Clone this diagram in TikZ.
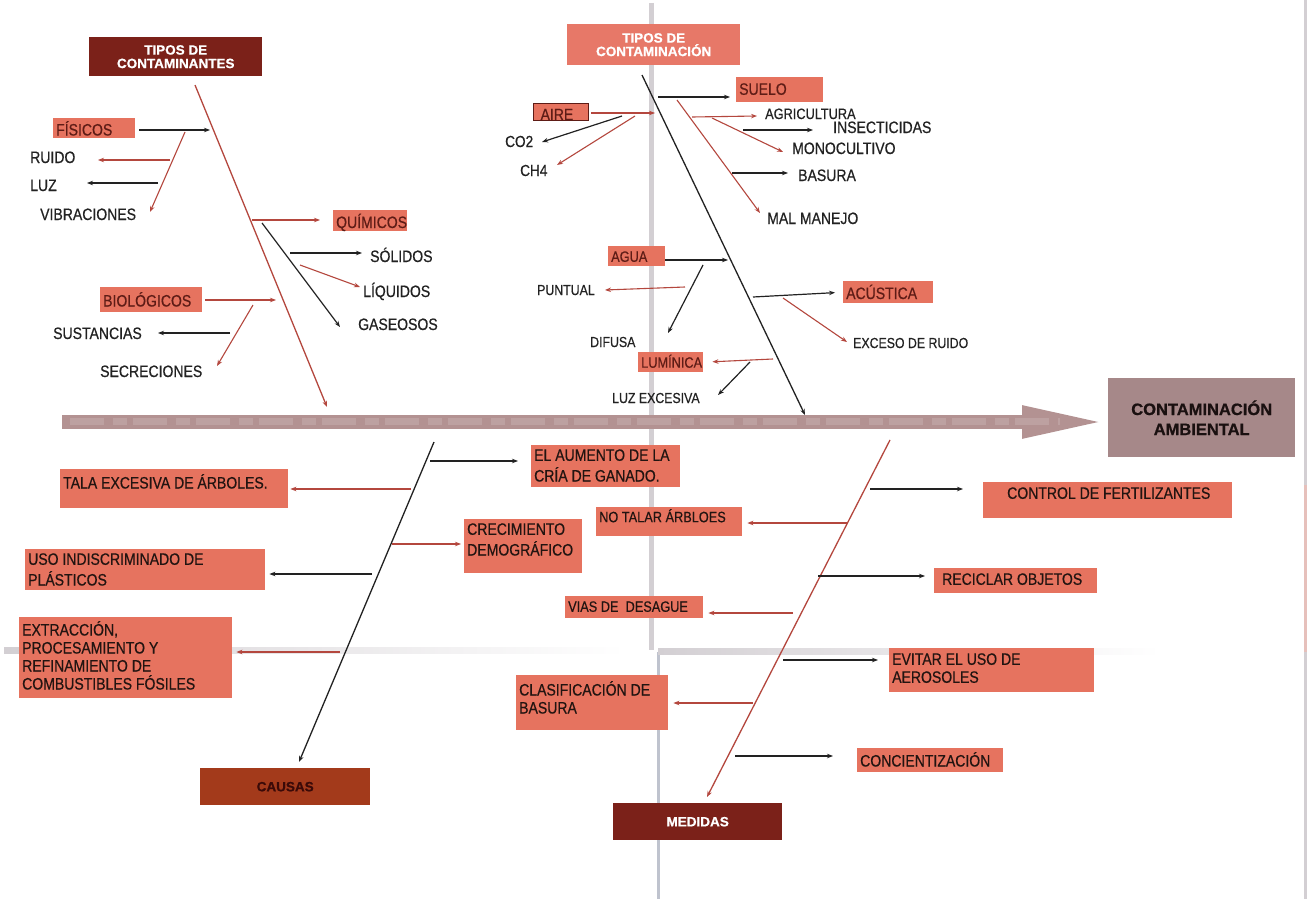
\documentclass[tikz,border=0pt]{standalone}
\usepackage{fontspec}
\setmainfont{Liberation Sans}
\newfontfamily\nar[FakeStretch=0.85,FakeBold=0.5]{Liberation Sans}
\newfontfamily\hvy[FakeBold=0.8]{Liberation Sans}
\usetikzlibrary{arrows.meta}

\definecolor{salmon}{HTML}{E6735F}
\definecolor{salmonhd}{HTML}{E77868}
\definecolor{maroon}{HTML}{7B2119}
\definecolor{rust}{HTML}{A33A1B}
\definecolor{rustink}{HTML}{3A0A08}
\definecolor{bonered}{HTML}{B4473E}
\definecolor{inkdark}{HTML}{222222}
\definecolor{boxink}{HTML}{221411}
\definecolor{tagink}{HTML}{5E1C16}
\definecolor{spine}{HTML}{B39292}
\definecolor{mauve}{HTML}{A68889}
\definecolor{goalink}{HTML}{1A1010}
\definecolor{fold}{HTML}{D3CFD3}
\definecolor{foldblue}{HTML}{BFC3CE}
\definecolor{foldpink}{HTML}{E6C0BB}

% filled label box: [style]{name}{x1}{y1}{x2}{y2}{top padding}{text}
\newcommand\tbox[8][]{%
  \node[salbox,#1] (#2) at (#3,#4)
    {\parbox[c][\dimexpr#6pt-#4pt\relax][t]{\dimexpr#5pt-#3pt\relax}%
      {\raggedright\leftskip=3pt\hyphenpenalty=10000\relax
       \vspace*{#7pt}\strut#8}};}

\tikzset{
  salbox/.style={fill=salmon, inner sep=0pt, anchor=north west, text=boxink,
    font=\nar\fontsize{16.5}{18}\selectfont},
  tagbox/.style={salbox, text=tagink},
  smallfont/.style={font=\nar\fontsize{15}{18}\selectfont},
  tinyfont/.style={font=\nar\fontsize{14.5}{18}\selectfont},
  lbl/.style={inner sep=0pt, anchor=base west, text=inkdark,
    font=\nar\fontsize{16.5}{18}\selectfont},
  hdr/.style={inner sep=0pt, anchor=north west, align=center,
    font=\hvy\bfseries\fontsize{13.5}{13.5}\selectfont},
  tip/.style={-{Stealth[length=6pt,width=4.5pt]}},
  blk/.style={draw=inkdark, line width=1.2pt, tip},
  rd/.style={draw=bonered, line width=1.1pt, tip},
  boneblk/.style={draw=inkdark, line width=1.3pt, tip},
  bonerd/.style={draw=bonered, line width=1.3pt, tip},
  spinearrow/.style={draw=spine, line width=14pt,
    -{Triangle[length=86pt,width=29pt]}},
}

\begin{document}
\begin{tikzpicture}[x=1pt,y=-1pt]
\useasboundingbox (0,0) rectangle (1312,899);
\fill[white] (0,0) rectangle (1312,899);

% paper fold marks
\draw[fold, line width=5pt] (651,3) -- (651,650);
\draw[foldblue, line width=3pt] (658,652) -- (658,899);
\shade[left color=fold, right color=white] (4,647) rectangle (625,653);
\shade[left color=fold, right color=white] (658,648) rectangle (1160,654);
\draw[fold, line width=3pt] (1305,0) -- (1305,899);
\draw[foldpink, line width=3pt] (1305,485) -- (1305,652);

% ---------- main spine and effect ----------
\node[hdr, fill=mauve, text=goalink, minimum width=187pt, minimum height=79pt,
  font=\hvy\bfseries\fontsize{16.5}{20}\selectfont] (goal) at (1108,378)
  {CONTAMINACIÓN\\AMBIENTAL};
\coordinate (sp0) at (62,422);
\draw[spinearrow] (sp0) -- (sp0 -| goal.west);
\draw[white, opacity=.14, line width=7pt, dash pattern=on 34pt off 9pt on 14pt off 6pt]
  (70,421) -- (1060,421);

% ---------- category headers ----------
\node[hdr, fill=maroon, text=white, minimum width=173pt, minimum height=39pt]
  (hdrA) at (89,37) {TIPOS DE\\CONTAMINANTES};
\node[hdr, fill=salmonhd, text=white, minimum width=173pt, minimum height=41pt]
  (hdrB) at (567,24) {TIPOS DE\\CONTAMINACIÓN};
\node[hdr, fill=rust, text=rustink, minimum width=170pt, minimum height=37pt]
  (causas) at (200,768) {CAUSAS};
\node[hdr, fill=maroon, text=white, minimum width=169pt, minimum height=37pt]
  (medidas) at (613,803) {MEDIDAS};

% ---------- tipos de contaminantes ----------
\coordinate (bA0) at (195,85);   \coordinate (bA1) at (327,407);
\draw[bonerd, tip] (bA0) -- (bA1);

\tbox[tagbox]{fis}{53}{118}{135}{138}{3}{FÍSICOS}
\tbox[tagbox]{quim}{333}{210}{407}{231}{3.5}{QUÍMICOS}
\tbox[tagbox]{bio}{100}{287}{202}{312}{5}{BIOLÓGICOS}

\node[lbl] (ruido) at (30,163) {RUIDO};
\node[lbl] (luz) at (30,191) {LUZ};
\node[lbl] (vibr) at (40,220) {VIBRACIONES};
\node[lbl] (sol) at (370,262) {SÓLIDOS};
\node[lbl] (liq) at (363,297) {LÍQUIDOS};
\node[lbl] (gas) at (358,330) {GASEOSOS};
\node[lbl] (sust) at (53,339) {SUSTANCIAS};
\node[lbl] (secr) at (100,377) {SECRECIONES};

\coordinate (fisTo) at (210,130);
\coordinate (fsub0) at (185,132); \coordinate (fsub1) at (150,212);
\coordinate (ruido0) at (170,160); \coordinate (ruido1) at (98,160);
\coordinate (luz0) at (158,183);   \coordinate (luz1) at (87,183);
\coordinate (quim0) at (252,220);
\coordinate (qsub0) at (262,223);  \coordinate (qsub1) at (340,327);
\coordinate (sol0) at (290,253);   \coordinate (sol1) at (362,253);
\coordinate (liq0) at (300,265);   \coordinate (liq1) at (360,287);
\coordinate (bioTo) at (276,300);
\coordinate (sus0) at (230,333);   \coordinate (sus1) at (158,333);
\coordinate (bsub0) at (253,305);  \coordinate (bsub1) at (217,366);

\draw[blk, shorten <=4pt] (fis.east |- fisTo) -- (fisTo);
\draw[rd] (fsub0) -- (fsub1);
\draw[rd] (ruido0) -- (ruido1);
\draw[blk] (luz0) -- (luz1);
\draw[rd, shorten >=13pt] (quim0) -- (quim0 -| quim.west);
\draw[blk] (qsub0) -- (qsub1);
\draw[blk] (sol0) -- (sol1);
\draw[rd] (liq0) -- (liq1);
\draw[rd, shorten <=3pt] (bio.east |- bioTo) -- (bioTo);
\draw[blk] (sus0) -- (sus1);
\draw[rd] (bsub0) -- (bsub1);

% ---------- tipos de contaminacion ----------
\coordinate (bB0) at (642,75);   \coordinate (bB1) at (805,415);
\draw[boneblk] (bB0) -- (bB1);

\tbox[tagbox]{suelo}{736}{77}{823}{102}{5}{SUELO}
\tbox[tagbox, draw=tagink, line width=1.2pt]{aire}{533}{103}{588}{120}{4}{\hspace*{4pt}AIRE}
\tbox[tagbox, smallfont]{agua}{608}{246}{665}{266}{3}{AGUA}
\tbox[tagbox]{acus}{843}{281}{933}{303}{3.5}{ACÚSTICA}
\tbox[tagbox, smallfont]{lum}{638}{352}{703}{372}{2.5}{LUMÍNICA}

\node[lbl, smallfont] (agri) at (765,119) {AGRICULTURA};
\node[lbl] (insec) at (833,133) {INSECTICIDAS};
\node[lbl] (mono) at (792,154) {MONOCULTIVO};
\node[lbl] (basura) at (798,181) {BASURA};
\node[lbl] (malm) at (767,224) {MAL MANEJO};
\node[lbl, font=\nar\fontsize{16}{18}\selectfont] (co2) at (505,147) {CO2};
\node[lbl, font=\nar\fontsize{16}{18}\selectfont] (ch4) at (520,176) {CH4};
\node[lbl, tinyfont] (punt) at (537,295) {PUNTUAL};
\node[lbl, tinyfont] (difu) at (590,347) {DIFUSA};
\node[lbl, tinyfont] (exce) at (853,348) {EXCESO DE RUIDO};
\node[lbl, tinyfont] (luzx) at (612,403) {LUZ EXCESIVA};

\coordinate (suelo0) at (658,97);
\coordinate (ssub0) at (677,100);  \coordinate (ssub1) at (760,213);
\coordinate (agr0) at (692,117);   \coordinate (agr1) at (757,116);
\coordinate (ins0) at (743,130);   \coordinate (ins1) at (813,130);
\coordinate (mono0) at (712,118);  \coordinate (mono1) at (783,152);
\coordinate (bas0) at (732,173);   \coordinate (bas1) at (788,173);
\coordinate (aireTo) at (655,113);
\coordinate (co0) at (622,116);    \coordinate (co1) at (542,142);
\coordinate (ch0) at (635,116);    \coordinate (ch1) at (557,165);
\coordinate (aguaTo) at (728,260);
\coordinate (pun0) at (685,287);   \coordinate (pun1) at (605,290);
\coordinate (dif0) at (703,265);   \coordinate (dif1) at (668,333);
\coordinate (acus0) at (753,297);
\coordinate (exc0) at (783,298);   \coordinate (exc1) at (847,342);
\coordinate (lum0) at (773,359);
\coordinate (lx0) at (750,362);    \coordinate (lx1) at (718,395);

\draw[blk, shorten >=6pt] (suelo0) -- (suelo0 -| suelo.west);
\draw[rd] (ssub0) -- (ssub1);
\draw[rd] (agr0) -- (agr1);
\draw[blk] (ins0) -- (ins1);
\draw[rd] (mono0) -- (mono1);
\draw[blk] (bas0) -- (bas1);
\draw[rd, shorten <=2pt] (aire.east |- aireTo) -- (aireTo);
\draw[blk] (co0) -- (co1);
\draw[rd] (ch0) -- (ch1);
\draw[blk] (agua.east |- aguaTo) -- (aguaTo);
\draw[rd] (pun0) -- (pun1);
\draw[blk] (dif0) -- (dif1);
\draw[blk, shorten >=8pt] (acus0) -- (acus.west);
\draw[rd] (exc0) -- (exc1);
\draw[rd, shorten >=9pt] (lum0) -- (lum.east);
\draw[blk] (lx0) -- (lx1);

% ---------- causas ----------
\coordinate (bC0) at (434,442);  \coordinate (bC1) at (299,762);
\draw[boneblk] (bC0) -- (bC1);

\tbox{aum}{531}{445}{680}{487}{3}{EL AUMENTO DE LA\\CRÍA DE GANADO.}
\tbox{tala}{60}{469}{288}{508}{5}{TALA EXCESIVA DE ÁRBOLES.}
\tbox{crec}{464}{519}{582}{573}{3}{CRECIMIENTO\\DEMOGRÁFICO}
\tbox{uso}{25}{549}{265}{590}{3}{USO INDISCRIMINADO DE\\PLÁSTICOS}
\tbox{ext}{19}{617}{232}{698}{4}{EXTRACCIÓN,\\PROCESAMIENTO Y\\REFINAMIENTO DE\\COMBUSTIBLES FÓSILES}

\coordinate (aum0) at (430,461);
\coordinate (tala0) at (411,489);
\coordinate (crec0) at (392,544);
\coordinate (uso0) at (372,574);
\coordinate (ext0) at (340,652);

\draw[blk, shorten >=13pt] (aum0) -- (aum0 -| aum.west);
\draw[rd, shorten >=2pt] (tala0) -- (tala0 -| tala.east);
\draw[rd, shorten >=3pt] (crec0) -- (crec0 -| crec.west);
\draw[blk, shorten >=4pt] (uso0) -- (uso0 -| uso.east);
\draw[rd, shorten >=4pt] (ext0) -- (ext0 -| ext.east);

% ---------- medidas ----------
\coordinate (bD0) at (890,440);  \coordinate (bD1) at (707,797);
\draw[bonerd] (bD0) -- (bD1);

\tbox{ctrl}{983}{482}{1232}{518}{4}{\hspace*{21pt}CONTROL DE FERTILIZANTES}
\tbox[smallfont]{notal}{596}{507}{742}{536}{2}{NO TALAR ÁRBLOES}
\tbox{recic}{934}{568}{1097}{593}{4}{\hspace*{5pt}RECICLAR OBJETOS}
\tbox[smallfont]{vias}{565}{596}{703}{618}{3}{VIAS DE\ \ DESAGUE}
\tbox{evit}{889}{648}{1094}{692}{4}{EVITAR EL USO DE\\AEROSOLES}
\tbox{clas}{516}{675}{668}{730}{6}{CLASIFICACIÓN DE\\BASURA}
\tbox{conc}{857}{748}{1003}{772}{4}{CONCIENTIZACIÓN}

\coordinate (ctrl0) at (870,489);
\coordinate (notal0) at (847,523);
\coordinate (recic0) at (818,576);
\coordinate (vias0) at (793,613);
\coordinate (evit0) at (783,660);
\coordinate (clas0) at (753,703);
\coordinate (conc0) at (735,756);

\draw[blk, shorten >=20pt] (ctrl0) -- (ctrl0 -| ctrl.west);
\draw[rd, shorten >=5pt] (notal0) -- (notal0 -| notal.east);
\draw[blk, shorten >=9pt] (recic0) -- (recic0 -| recic.west);
\draw[rd, shorten >=5pt] (vias0) -- (vias0 -| vias.east);
\draw[blk, shorten >=11pt] (evit0) -- (evit0 -| evit.west);
\draw[rd, shorten >=5pt] (clas0) -- (clas0 -| clas.east);
\draw[blk, shorten >=24pt] (conc0) -- (conc0 -| conc.west);
\end{tikzpicture}
\end{document}
